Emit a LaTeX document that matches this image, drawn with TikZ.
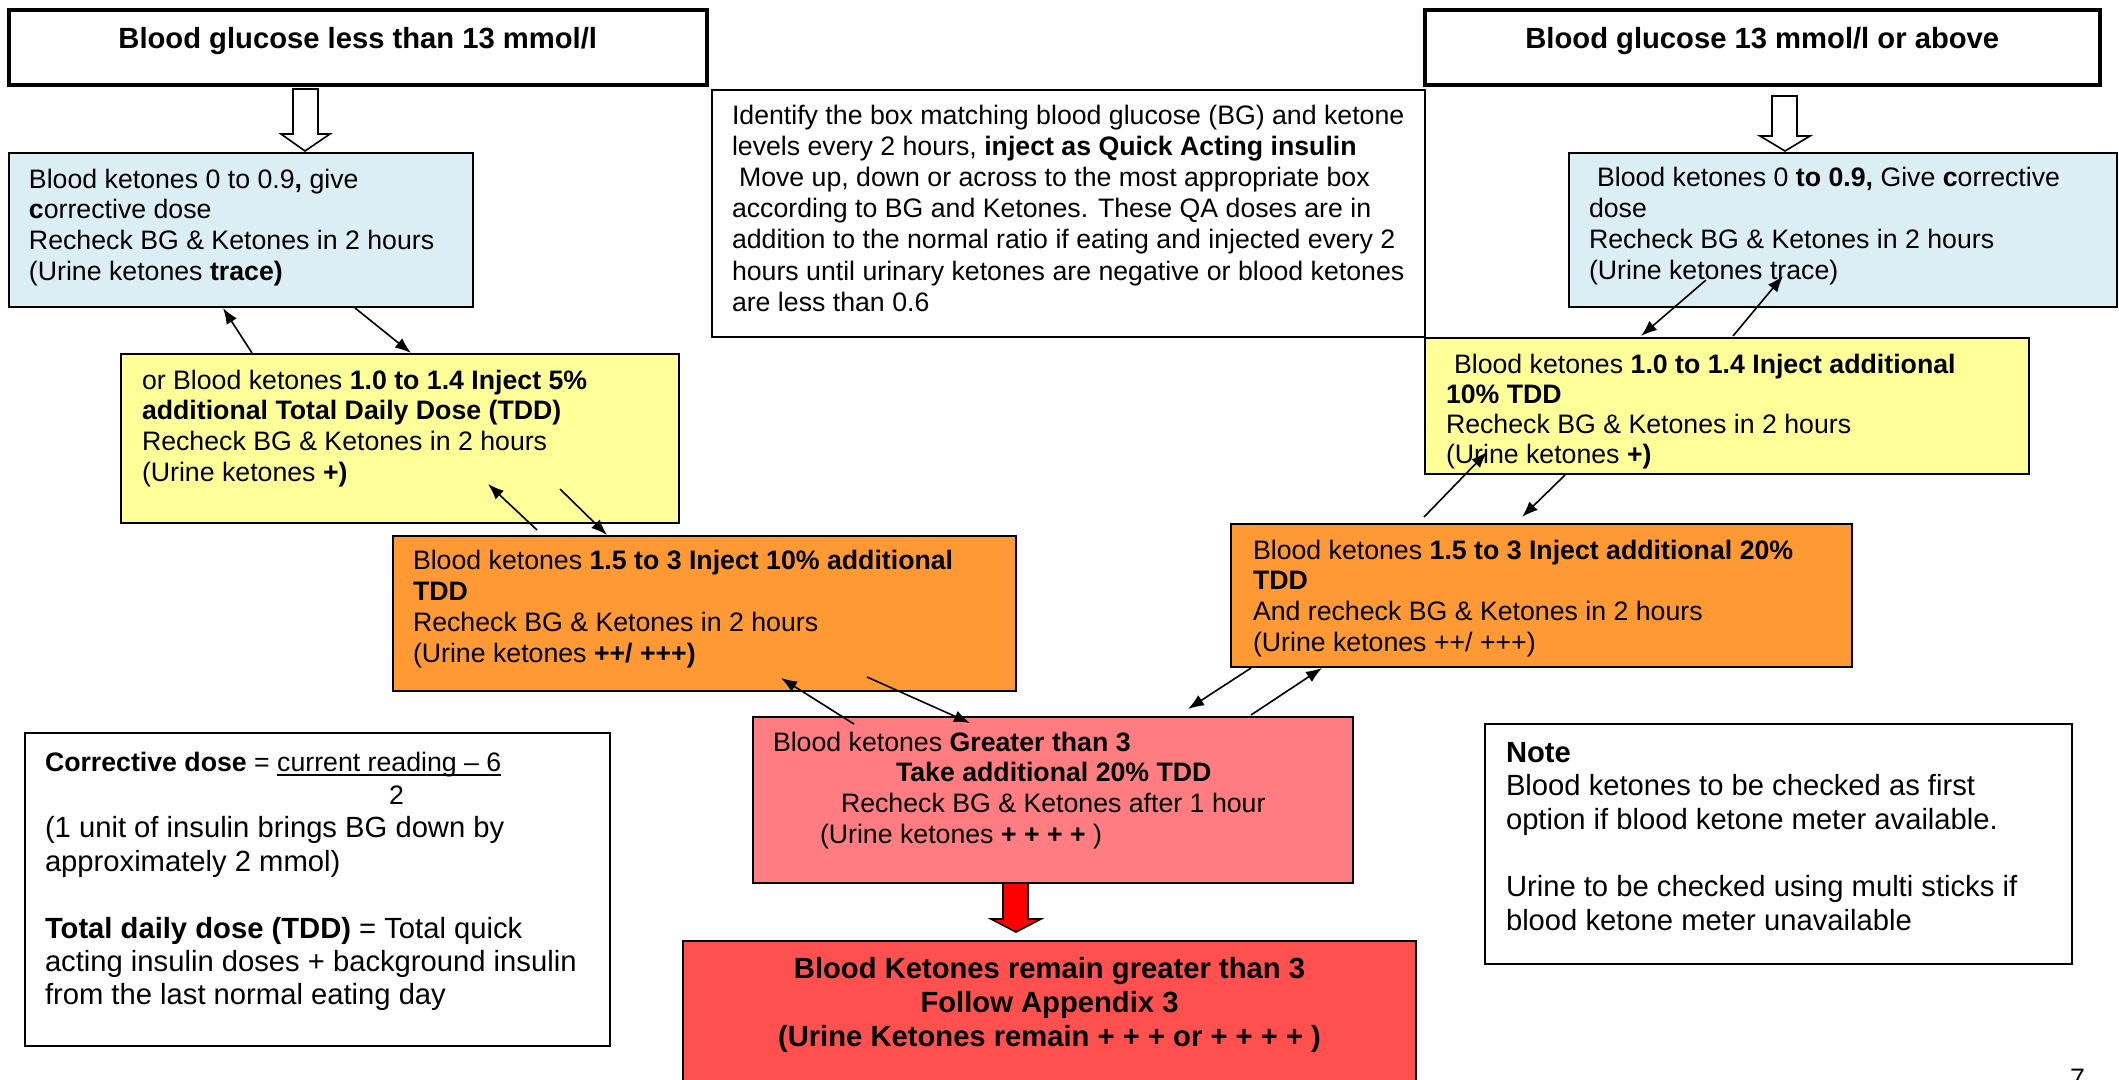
\documentclass[tikz,border=0pt]{standalone}
\usepackage{fontspec}
\setmainfont{Liberation Sans}
\usetikzlibrary{arrows.meta,calc}
\definecolor{cblue}{RGB}{219,238,244}
\definecolor{cyellow}{RGB}{255,255,153}
\definecolor{corange}{RGB}{255,153,51}
\definecolor{cpink}{RGB}{255,124,128}
\definecolor{cred}{RGB}{255,80,80}
\definecolor{carrow}{RGB}{255,0,0}
% #1 width, #2 height, #3 left padding, #4 first baseline, #5 baselineskip, #6 text
\newcommand{\boxtxt}[6]{\parbox[t][#2pt][t]{#1pt}{\fontsize{26.7pt}{#5pt}\selectfont\raggedright\leftskip=#3pt\relax\rule{0pt}{#4pt}#6}}
% large font: #1 width, #2 height, #3 left padding, #4 first baseline, #5 text
\newcommand{\boxtxtL}[5]{\parbox[t][#2pt][t]{#1pt}{\fontsize{29.2pt}{33.6pt}\selectfont\raggedright\leftskip=#3pt\relax\rule{0pt}{#4pt}#5}}
% centred bold large: #1 width, #2 height, #3 baselineskip, #4 first baseline, #5 text
\newcommand{\boxtxtC}[5]{\parbox[t][#2pt][t]{#1pt}{\fontsize{29.2pt}{#3pt}\selectfont\bfseries\centering\rule{0pt}{#4pt}#5}}
\newcommand{\myul}[1]{\setbox0=\hbox{#1}\rlap{\rule[-5pt]{\wd0}{2pt}}\box0}
\begin{document}
\begin{tikzpicture}[x=1pt,y=-1pt,
  box/.style={draw,line width=2pt,inner sep=0pt,anchor=north west},
  hdr/.style={box,line width=3.5pt},
  conn/.style={line width=1.6pt,-{Latex[length=16pt,width=12pt]}},
  blockarrow/.style={draw,line width=1.6pt,line join=miter}]
\useasboundingbox (0,0) rectangle (2119,1079);
\fill[white] (0,0) rectangle (2119,1079);

% headers
\node[hdr] (hdrL) at (7,8) {\boxtxtC{698}{75}{33.6}{39}{Blood glucose less than 13 mmol/l}};
\node[hdr] (hdrR) at (1423,8) {\boxtxtC{675}{75}{33.6}{39}{Blood glucose 13 mmol/l or above}};

% instructions
\node[box] (mid) at (711,89) {\boxtxt{713}{247}{20}{34}{31.2}{Identify the box matching blood glucose (BG) and ketone\\
levels every 2 hours, \textbf{inject as Quick Acting insulin}\\
\hspace*{7pt}Move up, down or across to the most appropriate box\\
according to BG and Ketones. These QA doses are in\\
addition to the normal ratio if eating and injected every 2\\
hours until urinary ketones are negative or blood ketones\\
are less than 0.6}};

% left column
\node[box,fill=cblue] (blueL) at (8,152) {\boxtxt{464}{154}{20}{35}{30.7}{Blood ketones 0 to 0.9\textbf{,} give\\
\textbf{c}orrective dose\\
Recheck BG \& Ketones in 2 hours\\
(Urine ketones \textbf{trace)}}};
\node[box,fill=cyellow] (yelL) at (120,353) {\boxtxt{558}{169}{21}{35}{30.7}{or Blood ketones \textbf{1.0 to 1.4 Inject 5\%}\\
\textbf{additional Total Daily Dose (TDD)}\\
Recheck BG \& Ketones in 2 hours\\
(Urine ketones \textbf{+)}}};
\node[box,fill=corange] (orgL) at (392,535) {\boxtxt{623}{155}{20}{33}{31.2}{Blood ketones \textbf{1.5 to 3 Inject 10\% additional}\\
\textbf{TDD}\\
Recheck BG \& Ketones in 2 hours\\
(Urine ketones \textbf{++/ +++)}}};

% right column
\node[box,fill=cblue] (blueR) at (1568,152) {\boxtxt{548}{154}{20}{33}{31.2}{\hspace*{8pt}Blood ketones 0 \textbf{to 0.9,} Give \textbf{c}orrective\\
dose\\
Recheck BG \& Ketones in 2 hours\\
(Urine ketones trace)}};
\node[box,fill=cyellow] (yelR) at (1424,337) {\boxtxt{604}{136}{21}{35}{30.3}{\hspace*{8pt}Blood ketones \textbf{1.0 to 1.4 Inject additional}\\
\textbf{10\% TDD}\\
Recheck BG \& Ketones in 2 hours\\
(Urine ketones \textbf{+)}}};
\node[box,fill=corange] (orgR) at (1230,523) {\boxtxt{621}{143}{22}{35}{30.7}{Blood ketones \textbf{1.5 to 3 Inject additional 20\%}\\
\textbf{TDD}\\
And recheck BG \& Ketones in 2 hours\\
(Urine ketones ++/ +++)}};

% bottom
\node[box,fill=cpink] (pink) at (752,716) {\boxtxt{600}{166}{20}{34}{30.7}{Blood ketones \textbf{Greater than 3}\\
\hspace*{123pt}\textbf{Take additional 20\% TDD}\\
\hspace*{68pt}Recheck BG \& Ketones after 1 hour\\
\hspace*{47pt}(Urine ketones \textbf{+ + + +} )}};
\node[box,fill=cred] (final) at (682,940) {\boxtxtC{733}{170}{34}{37}{Blood Ketones remain greater than 3\\
Follow Appendix 3\\
(Urine Ketones remain + + + or + + + + )}};

\node[box] (corr) at (24,732) {\boxtxtL{585}{313}{20}{38}{\fontsize{26.7pt}{33.4pt}\selectfont\textbf{Corrective dose} = \myul{current reading – 6}\\
\hspace*{344pt}2\\
\fontsize{29.2pt}{33.4pt}\selectfont(1 unit of insulin brings BG down by\\
approximately 2 mmol)\\[33.4pt]
\textbf{Total daily dose (TDD)} = Total quick\\
acting insulin doses + background insulin\\
from the last normal eating day}};

\node[box] (note) at (1484,723) {\boxtxtL{587}{240}{21}{38}{\textbf{Note}\\
Blood ketones to be checked as first\\
option if blood ketone meter available.\\[33.7pt]
Urine to be checked using multi sticks if\\
blood ketone meter unavailable}};

\node[anchor=base west,inner sep=0pt,font=\fontsize{26.7pt}{30pt}\selectfont] (pagenum) at (2070,1087) {7};

% block arrows
\path[blockarrow,fill=white] ($(blueL.north west)+(297,-1)$) -- ++(-24,-17) -- ++(12,0) -- ++(0,-45) -- ++(25,0) -- ++(0,45) -- ++(12,0) -- cycle;
\path[blockarrow,fill=white] ($(blueR.north west)+(217,-1)$) -- ++(-25,-15) -- ++(12,0) -- ++(0,-40) -- ++(25,0) -- ++(0,40) -- ++(13,0) -- cycle;
\path[blockarrow,fill=carrow] ($(final.north west)+(334,-8)$) -- ++(-25,-13) -- ++(12,0) -- ++(0,-36) -- ++(25,0) -- ++(0,36) -- ++(13,0) -- cycle;

% connectors, left side
\draw[conn] ($(yelL.north west)+(132,0)$) -- ($(blueL.south west)+(215,0)$);
\draw[conn] ($(blueL.south west)+(347,0)$) -- ($(yelL.north west)+(291,0)$);
\draw[conn] ($(orgL.north west)+(145,-5)$) -- ($(yelL.south west)+(368,-40)$);
\draw[conn] ($(yelL.south west)+(440,-35)$) -- ($(orgL.north west)+(215,0)$);
\draw[conn] ($(pink.north west)+(102,8)$) -- ($(orgL.south west)+(389,-14)$);
\draw[conn] ($(orgL.south west)+(475,-15)$) -- ($(pink.north west)+(218,7)$);

% connectors, right side
\draw[conn] ($(orgR.south west)+(21,0)$) -- ($(pink.north east)+(-166,-7)$);
\draw[conn] ($(pink.north east)+(-103,-1)$) -- ($(orgR.south west)+(92,0)$);
\draw[conn] ($(orgR.north west)+(194,-6)$) -- ($(yelR.south west)+(63,-23)$);
\draw[conn] ($(yelR.south west)+(141,0)$) -- ($(orgR.north west)+(292,-6)$);
\draw[conn] ($(blueR.south west)+(138,-28)$) -- ($(yelR.north west)+(217,-1)$);
\draw[conn] ($(yelR.north west)+(309,-1)$) -- ($(blueR.south west)+(215,-32)$);
\end{tikzpicture}
\end{document}
